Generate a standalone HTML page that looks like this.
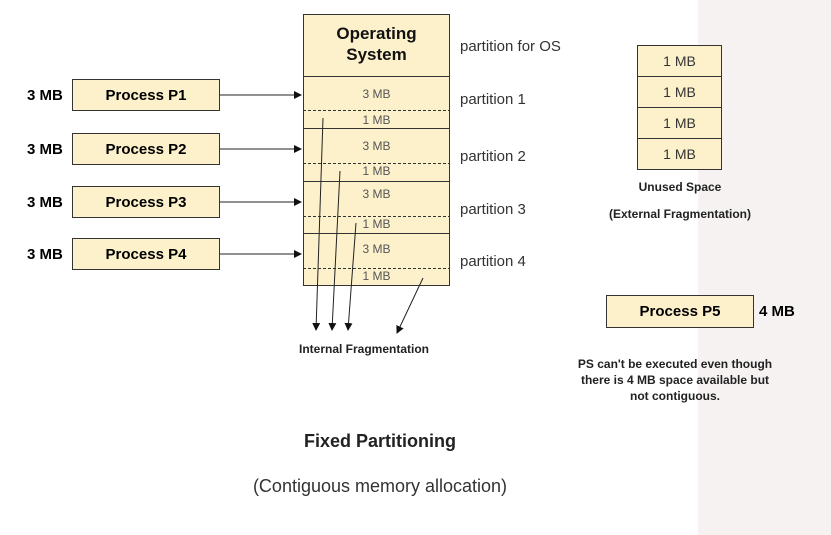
<!DOCTYPE html>
<html><head><style>
body{margin:0;width:831px;height:535px;position:relative;background:#fff;font-family:"Liberation Sans",Arial,sans-serif;overflow:hidden}
.a{position:absolute}
.bx{position:absolute;background:#fdf1cc;border:1px solid #333;box-sizing:border-box;display:flex;align-items:center;justify-content:center}
.t{position:absolute;white-space:nowrap}
</style></head><body>
<div class="a" style="left:698px;top:0;width:133px;height:535px;background:#f6f2f2"></div>

<!-- memory -->
<div class="bx" style="left:303px;top:14px;width:147px;height:272px"></div>
<div class="t" style="left:303px;top:23px;width:147px;text-align:center;font-weight:bold;font-size:17px;line-height:21px;color:#111">Operating<br>System</div>
<svg class="a" style="left:0;top:0" width="831" height="535">
<g stroke="#333" stroke-width="1">
<line x1="303" y1="76.5" x2="450" y2="76.5"/>
<line x1="303" y1="128.5" x2="450" y2="128.5"/>
<line x1="303" y1="181.5" x2="450" y2="181.5"/>
<line x1="303" y1="233.5" x2="450" y2="233.5"/>
</g>
<g stroke="#333" stroke-width="1" stroke-dasharray="3,2">
<line x1="303" y1="110.5" x2="450" y2="110.5"/>
<line x1="303" y1="163.5" x2="450" y2="163.5"/>
<line x1="303" y1="216.5" x2="450" y2="216.5"/>
<line x1="303" y1="268.5" x2="450" y2="268.5"/>
</g>
<defs><marker id="m" markerWidth="8" markerHeight="8" refX="7" refY="4" orient="auto" markerUnits="userSpaceOnUse"><path d="M0,0 L8,4 L0,8 z" fill="#111"/></marker></defs>
<g stroke="#222" stroke-width="1" marker-end="url(#m)">
<line x1="219" y1="95" x2="301" y2="95"/>
<line x1="219" y1="149" x2="301" y2="149"/>
<line x1="219" y1="202" x2="301" y2="202"/>
<line x1="219" y1="254" x2="301" y2="254"/>
<line x1="323" y1="118" x2="316" y2="330"/>
<line x1="340" y1="171" x2="332" y2="330"/>
<line x1="356" y1="223" x2="348" y2="330"/>
<line x1="423" y1="278" x2="397" y2="333"/>
</g>
</svg>
<div class="t" style="left:303px;top:87px;width:147px;text-align:center;font-size:12px;color:#555">3 MB</div>
<div class="t" style="left:303px;top:113px;width:147px;text-align:center;font-size:12px;color:#555">1 MB</div>
<div class="t" style="left:303px;top:139px;width:147px;text-align:center;font-size:12px;color:#555">3 MB</div>
<div class="t" style="left:303px;top:164px;width:147px;text-align:center;font-size:12px;color:#555">1 MB</div>
<div class="t" style="left:303px;top:187px;width:147px;text-align:center;font-size:12px;color:#555">3 MB</div>
<div class="t" style="left:303px;top:217px;width:147px;text-align:center;font-size:12px;color:#555">1 MB</div>
<div class="t" style="left:303px;top:242px;width:147px;text-align:center;font-size:12px;color:#555">3 MB</div>
<div class="t" style="left:303px;top:269px;width:147px;text-align:center;font-size:12px;color:#555">1 MB</div>

<div class="t" style="left:460px;top:38px;font-size:15px;color:#333">partition for OS</div>
<div class="t" style="left:460px;top:91px;font-size:15px;color:#333">partition 1</div>
<div class="t" style="left:460px;top:148px;font-size:15px;color:#333">partition 2</div>
<div class="t" style="left:460px;top:201px;font-size:15px;color:#333">partition 3</div>
<div class="t" style="left:460px;top:253px;font-size:15px;color:#333">partition 4</div>

<!-- processes -->
<div class="bx" style="left:72px;top:79px;width:148px;height:32px;font-weight:bold;font-size:15px">Process P1</div>
<div class="bx" style="left:72px;top:133px;width:148px;height:32px;font-weight:bold;font-size:15px">Process P2</div>
<div class="bx" style="left:72px;top:186px;width:148px;height:32px;font-weight:bold;font-size:15px">Process P3</div>
<div class="bx" style="left:72px;top:238px;width:148px;height:32px;font-weight:bold;font-size:15px">Process P4</div>
<div class="t" style="left:27px;top:87px;font-weight:bold;font-size:15px">3 MB</div>
<div class="t" style="left:27px;top:141px;font-weight:bold;font-size:15px">3 MB</div>
<div class="t" style="left:27px;top:194px;font-weight:bold;font-size:15px">3 MB</div>
<div class="t" style="left:27px;top:246px;font-weight:bold;font-size:15px">3 MB</div>

<div class="t" style="left:264px;top:342px;width:200px;text-align:center;font-weight:bold;font-size:12px;color:#222">Internal Fragmentation</div>

<!-- unused -->
<div class="bx" style="left:637px;top:45px;width:85px;height:32px;font-size:14px;color:#333">1 MB</div>
<div class="bx" style="left:637px;top:76px;width:85px;height:32px;font-size:14px;color:#333">1 MB</div>
<div class="bx" style="left:637px;top:107px;width:85px;height:32px;font-size:14px;color:#333">1 MB</div>
<div class="bx" style="left:637px;top:138px;width:85px;height:32px;font-size:14px;color:#333">1 MB</div>
<div class="t" style="left:580px;top:180px;width:200px;text-align:center;font-weight:bold;font-size:12px;color:#222">Unused Space</div>
<div class="t" style="left:580px;top:207px;width:200px;text-align:center;font-weight:bold;font-size:12px;color:#222">(External Fragmentation)</div>

<div class="bx" style="left:606px;top:295px;width:148px;height:33px;font-weight:bold;font-size:15px">Process P5</div>
<div class="t" style="left:759px;top:303px;font-weight:bold;font-size:15px">4 MB</div>
<div class="t" style="left:540px;top:356px;width:270px;text-align:center;font-weight:bold;font-size:12px;line-height:16px;color:#222">PS can't be executed even though<br>there is 4 MB space available but<br>not contiguous.</div>

<div class="t" style="left:230px;top:431px;width:300px;text-align:center;font-weight:bold;font-size:18px;color:#222">Fixed Partitioning</div>
<div class="t" style="left:200px;top:476px;width:360px;text-align:center;font-size:18px;color:#333">(Contiguous memory allocation)</div>
</body></html>
